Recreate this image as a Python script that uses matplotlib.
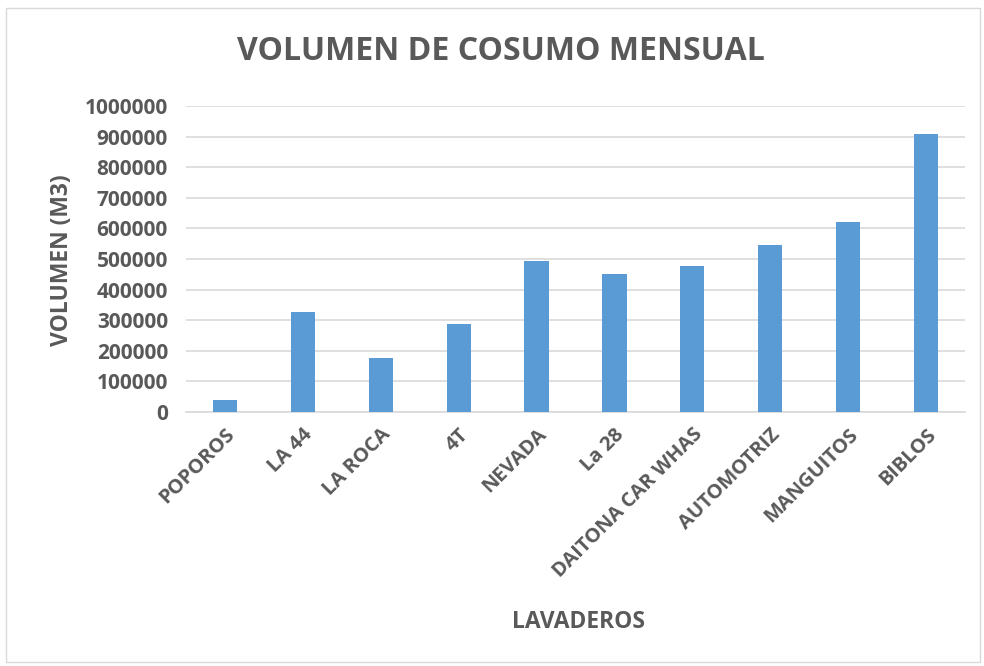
import matplotlib.pyplot as plt
from matplotlib.patches import Rectangle

lavaderos = ["POPOROS", "LA 44", "LA ROCA", "4T", "NEVADA", "La 28",
             "DAITONA CAR WHAS", "AUTOMOTRIZ", "MANGUITOS", "BIBLOS"]
volumen = [40000, 326000, 175000, 288000, 493000, 451000,
           477000, 546000, 621000, 910000]
yticks = [0, 100000, 200000, 300000, 400000, 500000, 600000, 700000, 800000, 900000, 1000000]

gris = "#595959"
plt.rcParams['font.family'] = ['Open Sans', 'DejaVu Sans']

fig = plt.figure(figsize=(9.84, 6.66), dpi=100)
ax = fig.add_axes([186 / 984, 1 - 412 / 666, (965 - 186) / 984, (412 - 106) / 666])

# borde del grafico
fig.patches.append(Rectangle((6 / 984, 4 / 666), 974 / 984, 654 / 666, transform=fig.transFigure,
                             fill=False, edgecolor="#d9d9d9", linewidth=1))

x = range(len(lavaderos))
ax.bar(x, volumen, width=0.31, color="#5b9bd5", zorder=3)

ax.set_xlim(-0.5, len(lavaderos) - 0.5)
ax.set_ylim(0, 1000000)
ax.set_yticks(yticks)
ax.set_yticklabels([str(v) for v in yticks], fontsize=15, fontweight='bold', color=gris)
ax.set_xticks(list(x))
ax.set_xticklabels(lavaderos, rotation=45, ha='right', rotation_mode='anchor',
                   fontsize=14.5, fontweight='bold', color=gris)
ax.tick_params(axis='both', length=0)
ax.tick_params(axis='x', pad=9)
ax.tick_params(axis='y', pad=13)

ax.grid(axis='y', color="#d9d9d9", linewidth=1.2, zorder=0)
for s in ['top', 'right', 'left']:
    ax.spines[s].set_visible(False)
ax.spines['bottom'].set_color("#d9d9d9")
ax.spines['bottom'].set_linewidth(1.2)

fig.text(501 / 984, 1 - 52 / 666, "VOLUMEN DE COSUMO MENSUAL", ha='center', va='center',
         fontsize=23, fontweight='bold', color=gris)
fig.text(578 / 984, 1 - 622 / 666, "LAVADEROS", ha='center', va='center',
         fontsize=16.5, fontweight='bold', color=gris)
fig.text(62 / 984, 1 - 260 / 666, "VOLUMEN (M3)", ha='center', va='center', rotation=90,
         fontsize=16.5, fontweight='bold', color=gris)

fig.savefig("out.png", dpi=100)
